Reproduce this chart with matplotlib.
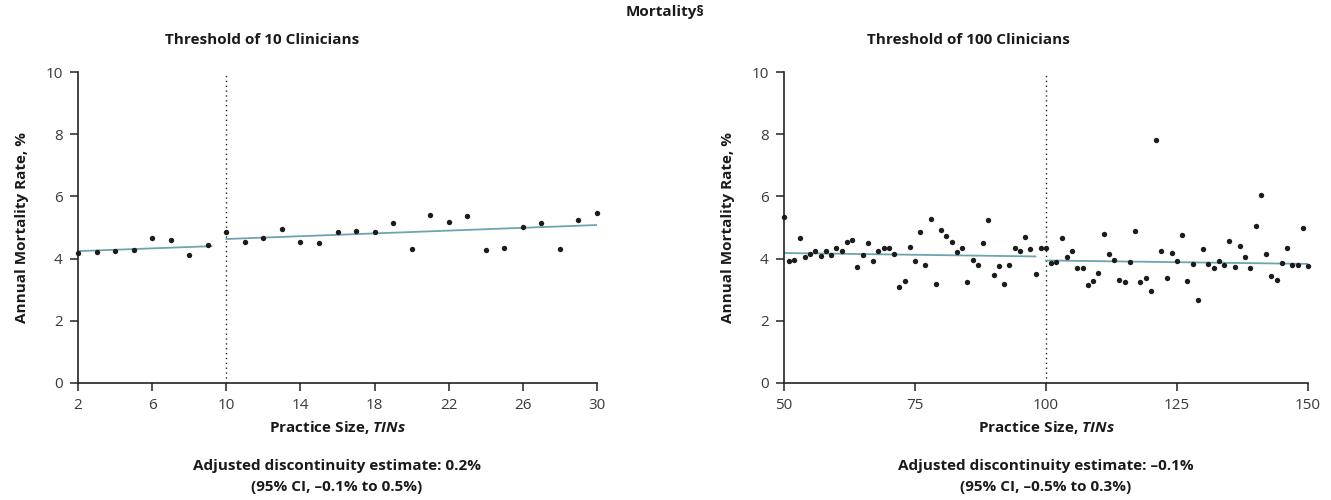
import matplotlib
matplotlib.use("Agg")
import matplotlib.pyplot as plt
import numpy as np

# ---------------- data ----------------
left_x = list(range(2, 31))
left_y = [4.17, 4.22, 4.24, 4.28, 4.65, 4.60, 4.12, 4.43,
          4.86, 4.54, 4.65, 4.95, 4.54, 4.50, 4.84, 4.89, 4.84, 5.14,
          4.31, 5.40, 5.18, 5.38, 4.27, 4.33, 5.01, 5.13, 4.31, 5.23, 5.47]
left_fit_pre_x = [2, 9.2]
left_fit_pre_y = [4.24, 4.40]
left_fit_post_x = [10, 30]
left_fit_post_y = [4.63, 5.08]

right_x = list(range(50, 151))
right_y = [5.33, 3.92, 3.97, 4.66, 4.06, 4.14, 4.26, 4.07, 4.23, 4.12,
           4.35, 4.26, 4.52, 4.59, 3.73, 4.13, 4.49, 3.92, 4.24, 4.34,
           4.33, 4.14, 3.10, 3.29, 4.36, 3.92, 4.86, 3.81, 5.27, 3.18,
           4.91, 4.74, 4.54, 4.22, 4.35, 3.25, 3.94, 3.80, 4.51, 5.24,
           3.46, 3.75, 3.18, 3.78, 4.33, 4.24, 4.68, 4.30, 3.49, 4.33,
           4.35, 3.85, 3.88, 4.66, 4.04, 4.23, 3.69, 3.70, 3.14, 3.27,
           3.54, 4.78, 4.16, 3.95, 3.32, 3.24, 3.90, 4.90, 3.24, 3.38,
           2.97, 7.82, 4.25, 3.38, 4.18, 3.92, 4.75, 3.27, 3.83, 2.68,
           4.32, 3.84, 3.70, 3.91, 3.81, 4.58, 3.74, 4.39, 4.05, 3.70,
           5.05, 6.05, 4.15, 3.45, 3.30, 3.85, 4.35, 3.80, 3.80, 5.00,
           3.75]
right_fit_pre_x = [50, 98]
right_fit_pre_y = [4.18, 4.07]
right_fit_post_x = [100, 150]
right_fit_post_y = [3.94, 3.83]

main_title = "Mortality§"
left_title = "Threshold of 10 Clinicians"
right_title = "Threshold of 100 Clinicians"
ylabel = "Annual Mortality Rate, %"
xlabel = "Practice Size, $\\it{TINs}$"
left_est = ["Adjusted discontinuity estimate: 0.2%", "(95% CI, \u20130.1% to 0.5%)"]
right_est = ["Adjusted discontinuity estimate: \u20130.1%", "(95% CI, \u20130.5% to 0.3%)"]
left_xticks = [2, 6, 10, 14, 18, 22, 26, 30]
right_xticks = [50, 75, 100, 125, 150]
yticks = [0, 2, 4, 6, 8, 10]

# ---------------- style ----------------
plt.rcParams["mathtext.fontset"] = "custom"
plt.rcParams["mathtext.it"] = "Open Sans:italic:bold"
plt.rcParams["mathtext.rm"] = "Open Sans:bold"

W, H = 1331, 500
fig = plt.figure(figsize=(W / 100, H / 100), dpi=100)
BOLD = dict(family=["Open Sans", "DejaVu Sans"], weight="bold")
TICKFONT = ["Open Sans", "DejaVu Sans"]
line_col = "#6fa4ae"
dot_col = "#1c1c1c"
txt_col = "#1a1a1a"

def px(x0, y0, x1, y1):
    return [x0 / W, 1 - y1 / H, (x1 - x0) / W, (y1 - y0) / H]

def setup(ax, xs, ys, fx0, fy0, fx1, fy1, cutoff, xlim, xticks):
    ax.scatter(xs, ys, s=15, color=dot_col, zorder=3, linewidths=0, clip_on=False)
    ax.plot(fx0, fy0, color=line_col, lw=1.3, zorder=2)
    ax.plot(fx1, fy1, color=line_col, lw=1.3, zorder=2)
    ax.axvline(cutoff, ymin=0, ymax=1, color="#222222", lw=1.0, ls=(0, (1, 2.5)), zorder=1)
    ax.set_xlim(*xlim)
    ax.set_ylim(0, 10)
    ax.set_xticks(xticks)
    ax.set_yticks(yticks)
    for s in ["top", "right"]:
        ax.spines[s].set_visible(False)
    for s in ["left", "bottom"]:
        ax.spines[s].set_linewidth(1.2)
        ax.spines[s].set_color("#222222")
    ax.tick_params(axis="both", direction="out", length=6, width=1.1, color="#222222",
                   labelsize=11, labelcolor="#3a3a3a", pad=5)
    for lab in ax.get_xticklabels() + ax.get_yticklabels():
        lab.set_family(TICKFONT)
    ax.set_ylabel(ylabel, fontsize=11, labelpad=12, color=txt_col, **BOLD)

ax1 = fig.add_axes(px(78, 72, 597, 383))
setup(ax1, left_x, left_y, left_fit_pre_x, left_fit_pre_y, left_fit_post_x, left_fit_post_y,
      10, (2, 30), left_xticks)
ax2 = fig.add_axes(px(784, 72, 1308, 383))
setup(ax2, right_x, right_y, right_fit_pre_x, right_fit_pre_y, right_fit_post_x, right_fit_post_y,
      100, (50, 150), right_xticks)

def ftext(xp, yp, s, size=11):
    fig.text(xp / W, 1 - yp / H, s, ha="center", va="center", fontsize=size,
             color=txt_col, **BOLD)

ftext(665, 12, main_title)
ftext(262, 40, left_title)
ftext(968, 40, right_title)

for cx, est in ((337, left_est), (1046, right_est)):
    ftext(cx, 428, xlabel)
    ftext(cx, 466, est[0])
    ftext(cx, 487, est[1])

fig.savefig("out.png", dpi=100)
